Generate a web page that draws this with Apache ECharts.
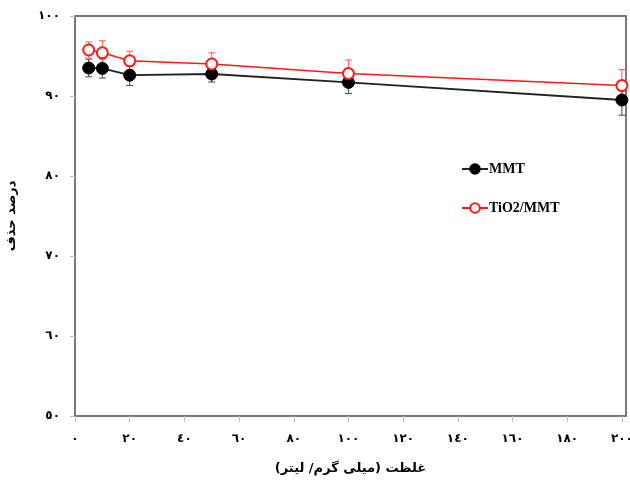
<!DOCTYPE html>
<html>
<head>
<meta charset="utf-8">
<script src="https://cdn.jsdelivr.net/npm/echarts@6/dist/echarts.min.js"></script>
<style>
  html, body { margin: 0; padding: 0; background: #fff; }
  #chart { width: 630px; height: 484px; }
</style>
</head>
<body>
<div id="chart"></div>
<script>
// Concentration (mg/L) and removal percentage for the two adsorbents
const concentrations = [5, 10, 20, 50, 100, 200];
const mmtRemoval = [93.5, 93.45, 92.6, 92.75, 91.7, 89.5];
const mmtError = [1.1, 1.2, 1.3, 1.0, 1.4, 1.9];
const tio2Removal = [95.75, 95.4, 94.4, 94.0, 92.8, 91.3];
const tio2Error = [1.0, 1.5, 1.2, 1.4, 1.7, 2.0];

// Axis ticks and their Persian-digit labels
const xTicks = [0, 20, 40, 60, 80, 100, 120, 140, 160, 180, 200];
const xTickLabels = ['٠', '٢٠', '٤٠', '٦٠', '٨٠', '١٠٠', '١٢٠', '١٤٠', '١٦٠', '١٨٠', '٢٠٠'];
const yTicks = [50, 60, 70, 80, 90, 100];
const yTickLabels = ['٥٠', '٦٠', '٧٠', '٨٠', '٩٠', '١٠٠'];

const xName = 'غلظت (میلی گرم/ لیتر)';
const yName = 'درصد حذف';

const persianFont = 'DejaVu Sans';
const latinFont = 'Liberation Serif';

function errorData(xs, ys, es) {
  return xs.map((x, i) => [x, ys[i] - es[i], ys[i] + es[i]]);
}

function errorBarSeries(data, color) {
  return {
    type: 'custom',
    z: 1,
    silent: true,
    data: data,
    renderItem: function (params, api) {
      const x = api.value(0);
      const lo = api.coord([x, api.value(1)]);
      const hi = api.coord([x, api.value(2)]);
      const cap = 3.5;
      const style = { stroke: color, lineWidth: 1 };
      return {
        type: 'group',
        children: [
          { type: 'line', shape: { x1: lo[0], y1: lo[1], x2: hi[0], y2: hi[1] }, style },
          { type: 'line', shape: { x1: lo[0] - cap, y1: lo[1], x2: lo[0] + cap, y2: lo[1] }, style },
          { type: 'line', shape: { x1: hi[0] - cap, y1: hi[1], x2: hi[0] + cap, y2: hi[1] }, style }
        ]
      };
    }
  };
}

const chart = echarts.init(document.getElementById('chart'), null, { renderer: 'canvas' });

chart.setOption({
  animation: false,
  backgroundColor: '#fff',
  grid: {
    left: 75, right: 4, top: 16, bottom: 68,
    outerBoundsMode: 'none',
    containLabel: false,
    show: true, borderColor: '#7a7a7a', borderWidth: 2, backgroundColor: 'transparent'
  },
  legend: {
    orient: 'vertical',
    left: 456,
    top: 157,
    itemGap: 25,
    itemWidth: 26,
    itemHeight: 12,
    data: ['MMT', 'TiO2/MMT'],
    textStyle: { fontFamily: latinFont, fontWeight: 'bold', fontSize: 14, color: '#000', padding: [0, 0, 0, -4] }
  },
  xAxis: {
    type: 'value',
    min: 0,
    max: 201.5,
    name: xName,
    nameLocation: 'middle',
    nameGap: 46,
    nameTextStyle: { fontFamily: persianFont, fontWeight: 'bold', fontSize: 13, color: '#000' },
    splitLine: { show: false },
    axisLine: { show: true, lineStyle: { color: '#7a7a7a', width: 2 } },
    axisTick: {
      show: true, length: 6, inside: false,
      customValues: xTicks,
      lineStyle: { color: '#bbb', width: 1 }
    },
    axisLabel: {
      customValues: xTicks,
      margin: 17,
      fontFamily: persianFont, fontWeight: 'bold', fontSize: 12, color: '#000',
      formatter: function (v) {
        const i = xTicks.indexOf(Math.round(v));
        return i >= 0 ? xTickLabels[i] : '';
      }
    }
  },
  yAxis: {
    type: 'value',
    min: 50,
    max: 100,
    interval: 10,
    name: yName,
    nameLocation: 'middle',
    nameGap: 57,
    nameTextStyle: { fontFamily: persianFont, fontWeight: 'bold', fontSize: 13, color: '#000' },
    splitLine: { show: false },
    axisLine: { show: true, lineStyle: { color: '#7a7a7a', width: 2 } },
    axisTick: { show: true, length: 5, inside: false, lineStyle: { color: '#bbb', width: 1 } },
    axisLabel: {
      margin: 15,
      fontFamily: persianFont, fontWeight: 'bold', fontSize: 12, color: '#000',
      formatter: function (v) {
        const i = yTicks.indexOf(Math.round(v));
        return i >= 0 ? yTickLabels[i] : '';
      }
    }
  },
  series: [
    errorBarSeries(errorData(concentrations, mmtRemoval, mmtError), '#444'),
    errorBarSeries(errorData(concentrations, tio2Removal, tio2Error), '#ff5555'),
    {
      name: 'MMT',
      type: 'line',
      z: 3,
      data: concentrations.map((x, i) => [x, mmtRemoval[i]]),
      symbol: 'circle',
      symbolSize: 12,
      itemStyle: { color: '#000', borderColor: '#000', borderWidth: 1 },
      lineStyle: { color: '#222', width: 1.8 }
    },
    {
      name: 'TiO2/MMT',
      type: 'line',
      z: 4,
      data: concentrations.map((x, i) => [x, tio2Removal[i]]),
      symbol: 'circle',
      symbolSize: 11,
      showAllSymbol: true,
      itemStyle: { color: '#fff', borderColor: '#ff1a1a', borderWidth: 2 },
      lineStyle: { color: '#ff1a1a', width: 1.5 }
    }
  ]
});
</script>
</body>
</html>
